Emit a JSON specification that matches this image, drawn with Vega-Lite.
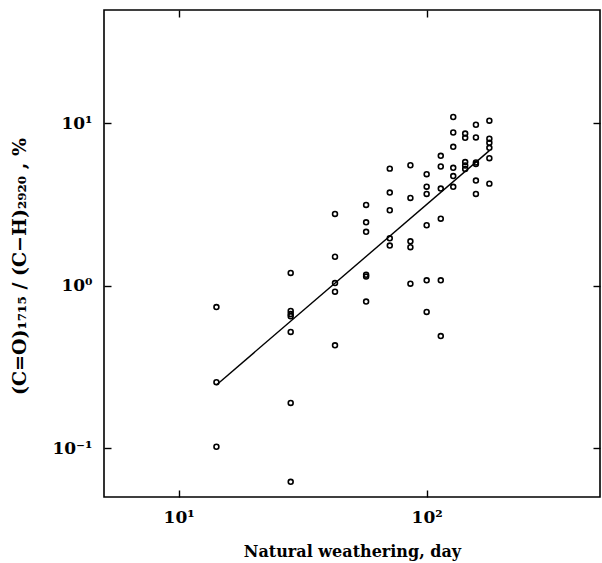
{
  "$schema": "https://vega.github.io/schema/vega-lite/v6.json",
  "width": 496,
  "height": 487,
  "autosize": "none",
  "padding": {"left": 104, "top": 10, "right": 2, "bottom": 66},
  "background": "white",
  "config": {
    "view": {"stroke": "black", "strokeWidth": 1.6},
    "axis": {
      "grid": false,
      "domain": false,
      "tickColor": "black",
      "tickWidth": 1.4,
      "tickSize": -7,
      "labelFont": "DejaVu Serif",
      "labelFontWeight": "bold",
      "labelFontSize": 17,
      "labelColor": "black",
      "titleFont": "DejaVu Serif",
      "titleFontWeight": "bold",
      "titleFontSize": 16,
      "titleColor": "black"
    }
  },
  "datasets": {
    "points": [
      {"day": 14.2, "ratio": 0.74}, {"day": 14.2, "ratio": 0.255}, {"day": 14.2, "ratio": 0.102},
      {"day": 28.3, "ratio": 1.2}, {"day": 28.3, "ratio": 0.7}, {"day": 28.3, "ratio": 0.67}, {"day": 28.3, "ratio": 0.65},
      {"day": 28.3, "ratio": 0.52}, {"day": 28.3, "ratio": 0.19}, {"day": 28.3, "ratio": 0.062},
      {"day": 42.7, "ratio": 2.77}, {"day": 42.7, "ratio": 1.51}, {"day": 42.7, "ratio": 1.04}, {"day": 42.7, "ratio": 0.92}, {"day": 42.7, "ratio": 0.43},
      {"day": 57, "ratio": 3.15}, {"day": 57, "ratio": 2.46}, {"day": 57, "ratio": 2.15}, {"day": 57, "ratio": 1.17}, {"day": 57, "ratio": 1.14}, {"day": 57, "ratio": 0.8},
      {"day": 71, "ratio": 5.27}, {"day": 71, "ratio": 3.75}, {"day": 71, "ratio": 2.92}, {"day": 71, "ratio": 1.96}, {"day": 71, "ratio": 1.77},
      {"day": 86, "ratio": 5.53}, {"day": 86, "ratio": 3.48}, {"day": 86, "ratio": 1.88}, {"day": 86, "ratio": 1.73}, {"day": 86, "ratio": 1.03},
      {"day": 100, "ratio": 4.87}, {"day": 100, "ratio": 4.08}, {"day": 100, "ratio": 3.68}, {"day": 100, "ratio": 2.36}, {"day": 100, "ratio": 1.08}, {"day": 100, "ratio": 0.69},
      {"day": 114, "ratio": 6.32}, {"day": 114, "ratio": 5.43}, {"day": 114, "ratio": 3.97}, {"day": 114, "ratio": 2.59}, {"day": 114, "ratio": 1.08}, {"day": 114, "ratio": 0.49},
      {"day": 128, "ratio": 10.96}, {"day": 128, "ratio": 8.8}, {"day": 128, "ratio": 7.18}, {"day": 128, "ratio": 5.33}, {"day": 128, "ratio": 4.74}, {"day": 128, "ratio": 4.07},
      {"day": 143, "ratio": 8.67}, {"day": 143, "ratio": 8.16}, {"day": 143, "ratio": 5.78}, {"day": 143, "ratio": 5.51}, {"day": 143, "ratio": 5.25},
      {"day": 158, "ratio": 9.82}, {"day": 158, "ratio": 8.2}, {"day": 158, "ratio": 5.75}, {"day": 158, "ratio": 5.62}, {"day": 158, "ratio": 4.45}, {"day": 158, "ratio": 3.68},
      {"day": 179, "ratio": 10.4}, {"day": 179, "ratio": 8.05}, {"day": 179, "ratio": 7.6}, {"day": 179, "ratio": 7.08}, {"day": 179, "ratio": 6.11}, {"day": 179, "ratio": 4.26}
    ],
    "fit": [
      {"day": 14.2, "ratio": 0.245},
      {"day": 179, "ratio": 6.8}
    ]
  },
  "layer": [
    {
      "data": {"name": "points"},
      "mark": {"type": "point", "shape": "circle", "filled": false, "stroke": "black", "strokeWidth": 1.6, "size": 24, "opacity": 1},
      "encoding": {
        "x": {
          "field": "day", "type": "quantitative",
          "scale": {"type": "log", "domain": [5, 500], "nice": false},
          "axis": {
            "orient": "bottom",
            "values": [10, 100],
            "title": "Natural weathering, day",
            "labelExpr": "datum.value == 10 ? '10¹' : '10²'",
            "labelPadding": 19,
            "titlePadding": 18
          }
        },
        "y": {
          "field": "ratio", "type": "quantitative",
          "scale": {"type": "log", "domain": [0.05, 50], "nice": false},
          "axis": {
            "orient": "left",
            "values": [0.1, 1, 10],
            "title": "(C=O)₁₇₁₅ / (C−H)₂₉₂₀ , %",
            "titleFontSize": 19,
            "titleY": 256,
            "labelExpr": "datum.value == 10 ? '10¹' : (datum.value == 1 ? '10⁰' : '10⁻¹')",
            "labelPadding": 19,
            "titlePadding": 22
          }
        }
      }
    },
    {
      "data": {"name": "fit"},
      "mark": {"type": "line", "color": "black", "strokeWidth": 1.4},
      "encoding": {
        "x": {
          "field": "day", "type": "quantitative",
          "scale": {"type": "log", "domain": [5, 500], "nice": false},
          "axis": {"orient": "top", "values": [10, 100], "labels": false, "title": null}
        },
        "y": {
          "field": "ratio", "type": "quantitative",
          "scale": {"type": "log", "domain": [0.05, 50], "nice": false},
          "axis": {"orient": "right", "values": [0.1, 1, 10], "labels": false, "title": null}
        }
      }
    }
  ],
  "resolve": {"axis": {"x": "independent", "y": "independent"}}
}
